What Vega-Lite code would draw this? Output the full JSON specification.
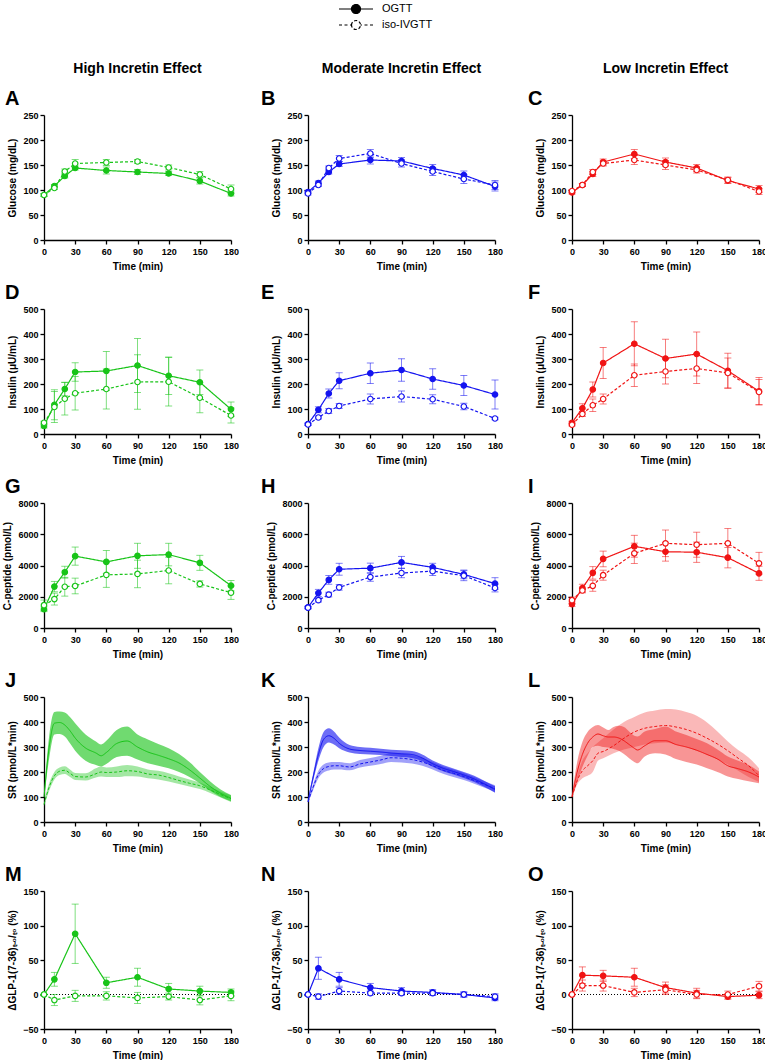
{
"$schema":"https://vega.github.io/schema/vega-lite/v6.json",
"padding":{"left":2,"top":3,"right":0,"bottom":0},
"datasets":{"d":[
{"g":"H","m":"glu","s":"OGTT","t":0,"v":90,"e":3},{"g":"H","m":"glu","s":"OGTT","t":10,"v":108,"e":3},{"g":"H","m":"glu","s":"OGTT","t":20,"v":128,"e":4},{"g":"H","m":"glu","s":"OGTT","t":30,"v":144,"e":4},{"g":"H","m":"glu","s":"OGTT","t":60,"v":139,"e":7},{"g":"H","m":"glu","s":"OGTT","t":90,"v":136,"e":5},{"g":"H","m":"glu","s":"OGTT","t":120,"v":133,"e":4},{"g":"H","m":"glu","s":"OGTT","t":150,"v":118,"e":6},{"g":"H","m":"glu","s":"OGTT","t":180,"v":93,"e":5},
{"g":"H","m":"glu","s":"iso-IVGTT","t":0,"v":90,"e":3},{"g":"H","m":"glu","s":"iso-IVGTT","t":10,"v":104,"e":3},{"g":"H","m":"glu","s":"iso-IVGTT","t":20,"v":137,"e":5},{"g":"H","m":"glu","s":"iso-IVGTT","t":30,"v":153,"e":8},{"g":"H","m":"glu","s":"iso-IVGTT","t":60,"v":155,"e":6},{"g":"H","m":"glu","s":"iso-IVGTT","t":90,"v":157,"e":4},{"g":"H","m":"glu","s":"iso-IVGTT","t":120,"v":145,"e":5},{"g":"H","m":"glu","s":"iso-IVGTT","t":150,"v":131,"e":6},{"g":"H","m":"glu","s":"iso-IVGTT","t":180,"v":102,"e":8},
{"g":"M","m":"glu","s":"OGTT","t":0,"v":96,"e":3},{"g":"M","m":"glu","s":"OGTT","t":10,"v":114,"e":4},{"g":"M","m":"glu","s":"OGTT","t":20,"v":136,"e":4},{"g":"M","m":"glu","s":"OGTT","t":30,"v":152,"e":5},{"g":"M","m":"glu","s":"OGTT","t":60,"v":160,"e":8},{"g":"M","m":"glu","s":"OGTT","t":90,"v":158,"e":7},{"g":"M","m":"glu","s":"OGTT","t":120,"v":143,"e":8},{"g":"M","m":"glu","s":"OGTT","t":150,"v":130,"e":8},{"g":"M","m":"glu","s":"OGTT","t":180,"v":107,"e":9},
{"g":"M","m":"glu","s":"iso-IVGTT","t":0,"v":93,"e":3},{"g":"M","m":"glu","s":"iso-IVGTT","t":10,"v":110,"e":3},{"g":"M","m":"glu","s":"iso-IVGTT","t":20,"v":144,"e":4},{"g":"M","m":"glu","s":"iso-IVGTT","t":30,"v":163,"e":6},{"g":"M","m":"glu","s":"iso-IVGTT","t":60,"v":173,"e":8},{"g":"M","m":"glu","s":"iso-IVGTT","t":90,"v":153,"e":7},{"g":"M","m":"glu","s":"iso-IVGTT","t":120,"v":137,"e":8},{"g":"M","m":"glu","s":"iso-IVGTT","t":150,"v":122,"e":9},{"g":"M","m":"glu","s":"iso-IVGTT","t":180,"v":110,"e":9},
{"g":"L","m":"glu","s":"OGTT","t":0,"v":95,"e":3},{"g":"L","m":"glu","s":"OGTT","t":10,"v":110,"e":3},{"g":"L","m":"glu","s":"OGTT","t":20,"v":132,"e":5},{"g":"L","m":"glu","s":"OGTT","t":30,"v":156,"e":6},{"g":"L","m":"glu","s":"OGTT","t":60,"v":172,"e":9},{"g":"L","m":"glu","s":"OGTT","t":90,"v":156,"e":8},{"g":"L","m":"glu","s":"OGTT","t":120,"v":144,"e":7},{"g":"L","m":"glu","s":"OGTT","t":150,"v":119,"e":6},{"g":"L","m":"glu","s":"OGTT","t":180,"v":102,"e":7},
{"g":"L","m":"glu","s":"iso-IVGTT","t":0,"v":98,"e":3},{"g":"L","m":"glu","s":"iso-IVGTT","t":10,"v":110,"e":3},{"g":"L","m":"glu","s":"iso-IVGTT","t":20,"v":136,"e":5},{"g":"L","m":"glu","s":"iso-IVGTT","t":30,"v":153,"e":5},{"g":"L","m":"glu","s":"iso-IVGTT","t":60,"v":160,"e":9},{"g":"L","m":"glu","s":"iso-IVGTT","t":90,"v":150,"e":9},{"g":"L","m":"glu","s":"iso-IVGTT","t":120,"v":140,"e":6},{"g":"L","m":"glu","s":"iso-IVGTT","t":150,"v":120,"e":6},{"g":"L","m":"glu","s":"iso-IVGTT","t":180,"v":97,"e":6},
{"g":"H","m":"ins","s":"OGTT","t":0,"v":32,"e":8},{"g":"H","m":"ins","s":"OGTT","t":10,"v":117,"e":60},{"g":"H","m":"ins","s":"OGTT","t":20,"v":180,"e":27},{"g":"H","m":"ins","s":"OGTT","t":30,"v":248,"e":37},{"g":"H","m":"ins","s":"OGTT","t":60,"v":252,"e":78},{"g":"H","m":"ins","s":"OGTT","t":90,"v":274,"e":108},{"g":"H","m":"ins","s":"OGTT","t":120,"v":233,"e":75},{"g":"H","m":"ins","s":"OGTT","t":150,"v":207,"e":49},{"g":"H","m":"ins","s":"OGTT","t":180,"v":99,"e":29},
{"g":"H","m":"ins","s":"iso-IVGTT","t":0,"v":45,"e":6},{"g":"H","m":"ins","s":"iso-IVGTT","t":10,"v":108,"e":62},{"g":"H","m":"ins","s":"iso-IVGTT","t":20,"v":141,"e":65},{"g":"H","m":"ins","s":"iso-IVGTT","t":30,"v":163,"e":67},{"g":"H","m":"ins","s":"iso-IVGTT","t":60,"v":180,"e":80},{"g":"H","m":"ins","s":"iso-IVGTT","t":90,"v":208,"e":109},{"g":"H","m":"ins","s":"iso-IVGTT","t":120,"v":209,"e":97},{"g":"H","m":"ins","s":"iso-IVGTT","t":150,"v":145,"e":60},{"g":"H","m":"ins","s":"iso-IVGTT","t":180,"v":74,"e":30},
{"g":"M","m":"ins","s":"OGTT","t":0,"v":40,"e":5},{"g":"M","m":"ins","s":"OGTT","t":10,"v":97,"e":12},{"g":"M","m":"ins","s":"OGTT","t":20,"v":162,"e":18},{"g":"M","m":"ins","s":"OGTT","t":30,"v":213,"e":32},{"g":"M","m":"ins","s":"OGTT","t":60,"v":243,"e":41},{"g":"M","m":"ins","s":"OGTT","t":90,"v":256,"e":45},{"g":"M","m":"ins","s":"OGTT","t":120,"v":220,"e":41},{"g":"M","m":"ins","s":"OGTT","t":150,"v":194,"e":40},{"g":"M","m":"ins","s":"OGTT","t":180,"v":158,"e":58},
{"g":"M","m":"ins","s":"iso-IVGTT","t":0,"v":38,"e":4},{"g":"M","m":"ins","s":"iso-IVGTT","t":10,"v":66,"e":6},{"g":"M","m":"ins","s":"iso-IVGTT","t":20,"v":92,"e":10},{"g":"M","m":"ins","s":"iso-IVGTT","t":30,"v":112,"e":10},{"g":"M","m":"ins","s":"iso-IVGTT","t":60,"v":140,"e":20},{"g":"M","m":"ins","s":"iso-IVGTT","t":90,"v":150,"e":22},{"g":"M","m":"ins","s":"iso-IVGTT","t":120,"v":139,"e":18},{"g":"M","m":"ins","s":"iso-IVGTT","t":150,"v":110,"e":13},{"g":"M","m":"ins","s":"iso-IVGTT","t":180,"v":62,"e":5},
{"g":"L","m":"ins","s":"OGTT","t":0,"v":45,"e":6},{"g":"L","m":"ins","s":"OGTT","t":10,"v":103,"e":18},{"g":"L","m":"ins","s":"OGTT","t":20,"v":178,"e":30},{"g":"L","m":"ins","s":"OGTT","t":30,"v":284,"e":62},{"g":"L","m":"ins","s":"OGTT","t":60,"v":361,"e":88},{"g":"L","m":"ins","s":"OGTT","t":90,"v":302,"e":77},{"g":"L","m":"ins","s":"OGTT","t":120,"v":320,"e":88},{"g":"L","m":"ins","s":"OGTT","t":150,"v":253,"e":70},{"g":"L","m":"ins","s":"OGTT","t":180,"v":171,"e":55},
{"g":"L","m":"ins","s":"iso-IVGTT","t":0,"v":37,"e":5},{"g":"L","m":"ins","s":"iso-IVGTT","t":10,"v":80,"e":10},{"g":"L","m":"ins","s":"iso-IVGTT","t":20,"v":115,"e":25},{"g":"L","m":"ins","s":"iso-IVGTT","t":30,"v":140,"e":20},{"g":"L","m":"ins","s":"iso-IVGTT","t":60,"v":235,"e":45},{"g":"L","m":"ins","s":"iso-IVGTT","t":90,"v":250,"e":50},{"g":"L","m":"ins","s":"iso-IVGTT","t":120,"v":262,"e":60},{"g":"L","m":"ins","s":"iso-IVGTT","t":150,"v":244,"e":60},{"g":"L","m":"ins","s":"iso-IVGTT","t":180,"v":168,"e":50},
{"g":"H","m":"cp","s":"OGTT","t":0,"v":1200,"e":150},{"g":"H","m":"cp","s":"OGTT","t":10,"v":2650,"e":330},{"g":"H","m":"cp","s":"OGTT","t":20,"v":3570,"e":380},{"g":"H","m":"cp","s":"OGTT","t":30,"v":4600,"e":580},{"g":"H","m":"cp","s":"OGTT","t":60,"v":4230,"e":730},{"g":"H","m":"cp","s":"OGTT","t":90,"v":4620,"e":800},{"g":"H","m":"cp","s":"OGTT","t":120,"v":4700,"e":720},{"g":"H","m":"cp","s":"OGTT","t":150,"v":4170,"e":480},{"g":"H","m":"cp","s":"OGTT","t":180,"v":2710,"e":330},
{"g":"H","m":"cp","s":"iso-IVGTT","t":0,"v":1460,"e":330},{"g":"H","m":"cp","s":"iso-IVGTT","t":10,"v":1850,"e":380},{"g":"H","m":"cp","s":"iso-IVGTT","t":20,"v":2640,"e":600},{"g":"H","m":"cp","s":"iso-IVGTT","t":30,"v":2690,"e":500},{"g":"H","m":"cp","s":"iso-IVGTT","t":60,"v":3400,"e":800},{"g":"H","m":"cp","s":"iso-IVGTT","t":90,"v":3460,"e":880},{"g":"H","m":"cp","s":"iso-IVGTT","t":120,"v":3680,"e":850},{"g":"H","m":"cp","s":"iso-IVGTT","t":150,"v":2820,"e":200},{"g":"H","m":"cp","s":"iso-IVGTT","t":180,"v":2260,"e":430},
{"g":"M","m":"cp","s":"OGTT","t":0,"v":1320,"e":80},{"g":"M","m":"cp","s":"OGTT","t":10,"v":2240,"e":230},{"g":"M","m":"cp","s":"OGTT","t":20,"v":3080,"e":280},{"g":"M","m":"cp","s":"OGTT","t":30,"v":3760,"e":380},{"g":"M","m":"cp","s":"OGTT","t":60,"v":3830,"e":320},{"g":"M","m":"cp","s":"OGTT","t":90,"v":4200,"e":380},{"g":"M","m":"cp","s":"OGTT","t":120,"v":3880,"e":260},{"g":"M","m":"cp","s":"OGTT","t":150,"v":3430,"e":280},{"g":"M","m":"cp","s":"OGTT","t":180,"v":2840,"e":380},
{"g":"M","m":"cp","s":"iso-IVGTT","t":0,"v":1300,"e":80},{"g":"M","m":"cp","s":"iso-IVGTT","t":10,"v":1780,"e":120},{"g":"M","m":"cp","s":"iso-IVGTT","t":20,"v":2140,"e":150},{"g":"M","m":"cp","s":"iso-IVGTT","t":30,"v":2600,"e":180},{"g":"M","m":"cp","s":"iso-IVGTT","t":60,"v":3260,"e":270},{"g":"M","m":"cp","s":"iso-IVGTT","t":90,"v":3520,"e":300},{"g":"M","m":"cp","s":"iso-IVGTT","t":120,"v":3640,"e":280},{"g":"M","m":"cp","s":"iso-IVGTT","t":150,"v":3350,"e":320},{"g":"M","m":"cp","s":"iso-IVGTT","t":180,"v":2560,"e":250},
{"g":"L","m":"cp","s":"OGTT","t":0,"v":1530,"e":150},{"g":"L","m":"cp","s":"OGTT","t":10,"v":2550,"e":250},{"g":"L","m":"cp","s":"OGTT","t":20,"v":3530,"e":400},{"g":"L","m":"cp","s":"OGTT","t":30,"v":4420,"e":500},{"g":"L","m":"cp","s":"OGTT","t":60,"v":5230,"e":700},{"g":"L","m":"cp","s":"OGTT","t":90,"v":4880,"e":600},{"g":"L","m":"cp","s":"OGTT","t":120,"v":4850,"e":650},{"g":"L","m":"cp","s":"OGTT","t":150,"v":4500,"e":650},{"g":"L","m":"cp","s":"OGTT","t":180,"v":3500,"e":450},
{"g":"L","m":"cp","s":"iso-IVGTT","t":0,"v":1780,"e":200},{"g":"L","m":"cp","s":"iso-IVGTT","t":10,"v":2400,"e":150},{"g":"L","m":"cp","s":"iso-IVGTT","t":20,"v":2700,"e":350},{"g":"L","m":"cp","s":"iso-IVGTT","t":30,"v":3380,"e":320},{"g":"L","m":"cp","s":"iso-IVGTT","t":60,"v":4780,"e":650},{"g":"L","m":"cp","s":"iso-IVGTT","t":90,"v":5420,"e":850},{"g":"L","m":"cp","s":"iso-IVGTT","t":120,"v":5330,"e":800},{"g":"L","m":"cp","s":"iso-IVGTT","t":150,"v":5420,"e":950},{"g":"L","m":"cp","s":"iso-IVGTT","t":180,"v":4140,"e":700},
{"g":"H","m":"glp","s":"OGTT","t":0,"v":0,"e":0},{"g":"H","m":"glp","s":"OGTT","t":10,"v":22,"e":10},{"g":"H","m":"glp","s":"OGTT","t":30,"v":88,"e":43},{"g":"H","m":"glp","s":"OGTT","t":60,"v":17,"e":8},{"g":"H","m":"glp","s":"OGTT","t":90,"v":25,"e":13},{"g":"H","m":"glp","s":"OGTT","t":120,"v":8,"e":8},{"g":"H","m":"glp","s":"OGTT","t":150,"v":5,"e":7},{"g":"H","m":"glp","s":"OGTT","t":180,"v":3,"e":5},
{"g":"H","m":"glp","s":"iso-IVGTT","t":0,"v":0,"e":0},{"g":"H","m":"glp","s":"iso-IVGTT","t":10,"v":-8,"e":8},{"g":"H","m":"glp","s":"iso-IVGTT","t":30,"v":-2,"e":8},{"g":"H","m":"glp","s":"iso-IVGTT","t":60,"v":-2,"e":6},{"g":"H","m":"glp","s":"iso-IVGTT","t":90,"v":-5,"e":8},{"g":"H","m":"glp","s":"iso-IVGTT","t":120,"v":-3,"e":5},{"g":"H","m":"glp","s":"iso-IVGTT","t":150,"v":-8,"e":7},{"g":"H","m":"glp","s":"iso-IVGTT","t":180,"v":-2,"e":7},
{"g":"M","m":"glp","s":"OGTT","t":0,"v":0,"e":0},{"g":"M","m":"glp","s":"OGTT","t":10,"v":38,"e":16},{"g":"M","m":"glp","s":"OGTT","t":30,"v":22,"e":10},{"g":"M","m":"glp","s":"OGTT","t":60,"v":10,"e":6},{"g":"M","m":"glp","s":"OGTT","t":90,"v":5,"e":5},{"g":"M","m":"glp","s":"OGTT","t":120,"v":3,"e":4},{"g":"M","m":"glp","s":"OGTT","t":150,"v":0,"e":4},{"g":"M","m":"glp","s":"OGTT","t":180,"v":-5,"e":4},
{"g":"M","m":"glp","s":"iso-IVGTT","t":0,"v":0,"e":0},{"g":"M","m":"glp","s":"iso-IVGTT","t":10,"v":-3,"e":4},{"g":"M","m":"glp","s":"iso-IVGTT","t":30,"v":5,"e":5},{"g":"M","m":"glp","s":"iso-IVGTT","t":60,"v":2,"e":3},{"g":"M","m":"glp","s":"iso-IVGTT","t":90,"v":2,"e":3},{"g":"M","m":"glp","s":"iso-IVGTT","t":120,"v":2,"e":3},{"g":"M","m":"glp","s":"iso-IVGTT","t":150,"v":0,"e":3},{"g":"M","m":"glp","s":"iso-IVGTT","t":180,"v":-3,"e":4},
{"g":"L","m":"glp","s":"OGTT","t":0,"v":0,"e":0},{"g":"L","m":"glp","s":"OGTT","t":10,"v":28,"e":12},{"g":"L","m":"glp","s":"OGTT","t":30,"v":27,"e":8},{"g":"L","m":"glp","s":"OGTT","t":60,"v":25,"e":13},{"g":"L","m":"glp","s":"OGTT","t":90,"v":10,"e":8},{"g":"L","m":"glp","s":"OGTT","t":120,"v":2,"e":7},{"g":"L","m":"glp","s":"OGTT","t":150,"v":-3,"e":4},{"g":"L","m":"glp","s":"OGTT","t":180,"v":-1,"e":5},
{"g":"L","m":"glp","s":"iso-IVGTT","t":0,"v":0,"e":0},{"g":"L","m":"glp","s":"iso-IVGTT","t":10,"v":13,"e":8},{"g":"L","m":"glp","s":"iso-IVGTT","t":30,"v":13,"e":8},{"g":"L","m":"glp","s":"iso-IVGTT","t":60,"v":3,"e":6},{"g":"L","m":"glp","s":"iso-IVGTT","t":90,"v":7,"e":7},{"g":"L","m":"glp","s":"iso-IVGTT","t":120,"v":0,"e":6},{"g":"L","m":"glp","s":"iso-IVGTT","t":150,"v":0,"e":5},{"g":"L","m":"glp","s":"iso-IVGTT","t":180,"v":12,"e":7},
{"g":"H","m":"sr","s":"OGTT","t":0,"v":100,"lo":90,"hi":110},{"g":"H","m":"sr","s":"OGTT","t":5,"v":300,"lo":255,"hi":345},{"g":"H","m":"sr","s":"OGTT","t":10,"v":395,"lo":350,"hi":440},{"g":"H","m":"sr","s":"OGTT","t":15,"v":398,"lo":352,"hi":442},{"g":"H","m":"sr","s":"OGTT","t":20,"v":388,"lo":342,"hi":438},{"g":"H","m":"sr","s":"OGTT","t":25,"v":365,"lo":315,"hi":420},{"g":"H","m":"sr","s":"OGTT","t":30,"v":336,"lo":285,"hi":395},{"g":"H","m":"sr","s":"OGTT","t":40,"v":296,"lo":245,"hi":350},{"g":"H","m":"sr","s":"OGTT","t":50,"v":276,"lo":228,"hi":322},{"g":"H","m":"sr","s":"OGTT","t":55,"v":265,"lo":222,"hi":310},{"g":"H","m":"sr","s":"OGTT","t":60,"v":278,"lo":232,"hi":325},{"g":"H","m":"sr","s":"OGTT","t":70,"v":314,"lo":260,"hi":368},{"g":"H","m":"sr","s":"OGTT","t":80,"v":324,"lo":265,"hi":382},{"g":"H","m":"sr","s":"OGTT","t":90,"v":300,"lo":250,"hi":350},{"g":"H","m":"sr","s":"OGTT","t":100,"v":280,"lo":235,"hi":330},{"g":"H","m":"sr","s":"OGTT","t":110,"v":267,"lo":225,"hi":312},{"g":"H","m":"sr","s":"OGTT","t":120,"v":253,"lo":215,"hi":295},{"g":"H","m":"sr","s":"OGTT","t":130,"v":236,"lo":200,"hi":272},{"g":"H","m":"sr","s":"OGTT","t":140,"v":209,"lo":180,"hi":240},{"g":"H","m":"sr","s":"OGTT","t":150,"v":176,"lo":155,"hi":200},{"g":"H","m":"sr","s":"OGTT","t":160,"v":142,"lo":125,"hi":162},{"g":"H","m":"sr","s":"OGTT","t":170,"v":115,"lo":100,"hi":130},{"g":"H","m":"sr","s":"OGTT","t":180,"v":95,"lo":83,"hi":108},
{"g":"H","m":"sr","s":"iso-IVGTT","t":0,"v":70,"lo":62,"hi":80},{"g":"H","m":"sr","s":"iso-IVGTT","t":5,"v":140,"lo":125,"hi":155},{"g":"H","m":"sr","s":"iso-IVGTT","t":10,"v":185,"lo":170,"hi":200},{"g":"H","m":"sr","s":"iso-IVGTT","t":15,"v":203,"lo":188,"hi":218},{"g":"H","m":"sr","s":"iso-IVGTT","t":20,"v":207,"lo":192,"hi":223},{"g":"H","m":"sr","s":"iso-IVGTT","t":25,"v":195,"lo":180,"hi":210},{"g":"H","m":"sr","s":"iso-IVGTT","t":30,"v":182,"lo":168,"hi":196},{"g":"H","m":"sr","s":"iso-IVGTT","t":40,"v":180,"lo":166,"hi":195},{"g":"H","m":"sr","s":"iso-IVGTT","t":50,"v":193,"lo":178,"hi":215},{"g":"H","m":"sr","s":"iso-IVGTT","t":55,"v":200,"lo":182,"hi":222},{"g":"H","m":"sr","s":"iso-IVGTT","t":60,"v":198,"lo":180,"hi":218},{"g":"H","m":"sr","s":"iso-IVGTT","t":70,"v":200,"lo":180,"hi":222},{"g":"H","m":"sr","s":"iso-IVGTT","t":80,"v":205,"lo":183,"hi":228},{"g":"H","m":"sr","s":"iso-IVGTT","t":90,"v":202,"lo":182,"hi":222},{"g":"H","m":"sr","s":"iso-IVGTT","t":100,"v":192,"lo":175,"hi":210},{"g":"H","m":"sr","s":"iso-IVGTT","t":110,"v":188,"lo":170,"hi":205},{"g":"H","m":"sr","s":"iso-IVGTT","t":120,"v":178,"lo":162,"hi":195},{"g":"H","m":"sr","s":"iso-IVGTT","t":130,"v":166,"lo":152,"hi":182},{"g":"H","m":"sr","s":"iso-IVGTT","t":140,"v":155,"lo":142,"hi":170},{"g":"H","m":"sr","s":"iso-IVGTT","t":150,"v":145,"lo":132,"hi":158},{"g":"H","m":"sr","s":"iso-IVGTT","t":160,"v":128,"lo":116,"hi":140},{"g":"H","m":"sr","s":"iso-IVGTT","t":170,"v":110,"lo":98,"hi":122},{"g":"H","m":"sr","s":"iso-IVGTT","t":180,"v":93,"lo":80,"hi":106},
{"g":"M","m":"sr","s":"OGTT","t":0,"v":82,"lo":78,"hi":88},{"g":"M","m":"sr","s":"OGTT","t":5,"v":180,"lo":165,"hi":195},{"g":"M","m":"sr","s":"OGTT","t":10,"v":270,"lo":245,"hi":295},{"g":"M","m":"sr","s":"OGTT","t":15,"v":330,"lo":300,"hi":360},{"g":"M","m":"sr","s":"OGTT","t":20,"v":345,"lo":318,"hi":375},{"g":"M","m":"sr","s":"OGTT","t":25,"v":335,"lo":310,"hi":362},{"g":"M","m":"sr","s":"OGTT","t":30,"v":315,"lo":295,"hi":338},{"g":"M","m":"sr","s":"OGTT","t":40,"v":292,"lo":278,"hi":308},{"g":"M","m":"sr","s":"OGTT","t":50,"v":286,"lo":272,"hi":300},{"g":"M","m":"sr","s":"OGTT","t":60,"v":283,"lo":270,"hi":297},{"g":"M","m":"sr","s":"OGTT","t":70,"v":280,"lo":268,"hi":293},{"g":"M","m":"sr","s":"OGTT","t":80,"v":276,"lo":264,"hi":289},{"g":"M","m":"sr","s":"OGTT","t":90,"v":273,"lo":260,"hi":287},{"g":"M","m":"sr","s":"OGTT","t":100,"v":270,"lo":256,"hi":284},{"g":"M","m":"sr","s":"OGTT","t":110,"v":256,"lo":243,"hi":270},{"g":"M","m":"sr","s":"OGTT","t":120,"v":233,"lo":221,"hi":246},{"g":"M","m":"sr","s":"OGTT","t":130,"v":215,"lo":203,"hi":228},{"g":"M","m":"sr","s":"OGTT","t":140,"v":202,"lo":190,"hi":214},{"g":"M","m":"sr","s":"OGTT","t":150,"v":188,"lo":176,"hi":200},{"g":"M","m":"sr","s":"OGTT","t":160,"v":172,"lo":160,"hi":185},{"g":"M","m":"sr","s":"OGTT","t":170,"v":152,"lo":140,"hi":164},{"g":"M","m":"sr","s":"OGTT","t":180,"v":130,"lo":117,"hi":143},
{"g":"M","m":"sr","s":"iso-IVGTT","t":0,"v":80,"lo":76,"hi":85},{"g":"M","m":"sr","s":"iso-IVGTT","t":5,"v":140,"lo":128,"hi":152},{"g":"M","m":"sr","s":"iso-IVGTT","t":10,"v":190,"lo":175,"hi":205},{"g":"M","m":"sr","s":"iso-IVGTT","t":15,"v":214,"lo":198,"hi":230},{"g":"M","m":"sr","s":"iso-IVGTT","t":20,"v":222,"lo":206,"hi":238},{"g":"M","m":"sr","s":"iso-IVGTT","t":25,"v":225,"lo":210,"hi":240},{"g":"M","m":"sr","s":"iso-IVGTT","t":30,"v":225,"lo":210,"hi":240},{"g":"M","m":"sr","s":"iso-IVGTT","t":40,"v":220,"lo":207,"hi":235},{"g":"M","m":"sr","s":"iso-IVGTT","t":50,"v":232,"lo":218,"hi":248},{"g":"M","m":"sr","s":"iso-IVGTT","t":60,"v":240,"lo":225,"hi":256},{"g":"M","m":"sr","s":"iso-IVGTT","t":70,"v":248,"lo":232,"hi":265},{"g":"M","m":"sr","s":"iso-IVGTT","t":80,"v":257,"lo":240,"hi":275},{"g":"M","m":"sr","s":"iso-IVGTT","t":90,"v":255,"lo":238,"hi":273},{"g":"M","m":"sr","s":"iso-IVGTT","t":100,"v":250,"lo":234,"hi":267},{"g":"M","m":"sr","s":"iso-IVGTT","t":110,"v":240,"lo":225,"hi":256},{"g":"M","m":"sr","s":"iso-IVGTT","t":120,"v":225,"lo":210,"hi":240},{"g":"M","m":"sr","s":"iso-IVGTT","t":130,"v":207,"lo":193,"hi":222},{"g":"M","m":"sr","s":"iso-IVGTT","t":140,"v":195,"lo":180,"hi":210},{"g":"M","m":"sr","s":"iso-IVGTT","t":150,"v":182,"lo":168,"hi":196},{"g":"M","m":"sr","s":"iso-IVGTT","t":160,"v":166,"lo":153,"hi":180},{"g":"M","m":"sr","s":"iso-IVGTT","t":170,"v":150,"lo":137,"hi":163},{"g":"M","m":"sr","s":"iso-IVGTT","t":180,"v":133,"lo":120,"hi":147},
{"g":"L","m":"sr","s":"OGTT","t":0,"v":102,"lo":98,"hi":106},{"g":"L","m":"sr","s":"OGTT","t":5,"v":200,"lo":160,"hi":240},{"g":"L","m":"sr","s":"OGTT","t":10,"v":270,"lo":220,"hi":320},{"g":"L","m":"sr","s":"OGTT","t":15,"v":315,"lo":265,"hi":360},{"g":"L","m":"sr","s":"OGTT","t":20,"v":340,"lo":300,"hi":380},{"g":"L","m":"sr","s":"OGTT","t":25,"v":352,"lo":305,"hi":388},{"g":"L","m":"sr","s":"OGTT","t":30,"v":345,"lo":300,"hi":378},{"g":"L","m":"sr","s":"OGTT","t":35,"v":340,"lo":298,"hi":368},{"g":"L","m":"sr","s":"OGTT","t":40,"v":340,"lo":292,"hi":380},{"g":"L","m":"sr","s":"OGTT","t":45,"v":336,"lo":285,"hi":385},{"g":"L","m":"sr","s":"OGTT","t":50,"v":325,"lo":272,"hi":380},{"g":"L","m":"sr","s":"OGTT","t":55,"v":310,"lo":255,"hi":362},{"g":"L","m":"sr","s":"OGTT","t":60,"v":295,"lo":240,"hi":345},{"g":"L","m":"sr","s":"OGTT","t":63,"v":288,"lo":235,"hi":342},{"g":"L","m":"sr","s":"OGTT","t":70,"v":305,"lo":262,"hi":362},{"g":"L","m":"sr","s":"OGTT","t":80,"v":325,"lo":275,"hi":372},{"g":"L","m":"sr","s":"OGTT","t":90,"v":325,"lo":270,"hi":382},{"g":"L","m":"sr","s":"OGTT","t":100,"v":310,"lo":252,"hi":362},{"g":"L","m":"sr","s":"OGTT","t":110,"v":300,"lo":240,"hi":348},{"g":"L","m":"sr","s":"OGTT","t":120,"v":287,"lo":230,"hi":332},{"g":"L","m":"sr","s":"OGTT","t":130,"v":270,"lo":215,"hi":315},{"g":"L","m":"sr","s":"OGTT","t":140,"v":252,"lo":200,"hi":290},{"g":"L","m":"sr","s":"OGTT","t":150,"v":225,"lo":182,"hi":262},{"g":"L","m":"sr","s":"OGTT","t":160,"v":213,"lo":172,"hi":245},{"g":"L","m":"sr","s":"OGTT","t":170,"v":200,"lo":163,"hi":228},{"g":"L","m":"sr","s":"OGTT","t":180,"v":180,"lo":155,"hi":202},
{"g":"L","m":"sr","s":"iso-IVGTT","t":0,"v":100,"lo":96,"hi":105},{"g":"L","m":"sr","s":"iso-IVGTT","t":5,"v":165,"lo":150,"hi":185},{"g":"L","m":"sr","s":"iso-IVGTT","t":10,"v":205,"lo":175,"hi":245},{"g":"L","m":"sr","s":"iso-IVGTT","t":15,"v":225,"lo":185,"hi":275},{"g":"L","m":"sr","s":"iso-IVGTT","t":20,"v":245,"lo":200,"hi":300},{"g":"L","m":"sr","s":"iso-IVGTT","t":25,"v":275,"lo":245,"hi":318},{"g":"L","m":"sr","s":"iso-IVGTT","t":30,"v":282,"lo":255,"hi":335},{"g":"L","m":"sr","s":"iso-IVGTT","t":40,"v":305,"lo":275,"hi":370},{"g":"L","m":"sr","s":"iso-IVGTT","t":50,"v":335,"lo":290,"hi":400},{"g":"L","m":"sr","s":"iso-IVGTT","t":60,"v":360,"lo":300,"hi":420},{"g":"L","m":"sr","s":"iso-IVGTT","t":70,"v":375,"lo":310,"hi":438},{"g":"L","m":"sr","s":"iso-IVGTT","t":80,"v":382,"lo":315,"hi":446},{"g":"L","m":"sr","s":"iso-IVGTT","t":90,"v":386,"lo":318,"hi":452},{"g":"L","m":"sr","s":"iso-IVGTT","t":100,"v":380,"lo":310,"hi":450},{"g":"L","m":"sr","s":"iso-IVGTT","t":110,"v":370,"lo":300,"hi":440},{"g":"L","m":"sr","s":"iso-IVGTT","t":120,"v":355,"lo":285,"hi":425},{"g":"L","m":"sr","s":"iso-IVGTT","t":130,"v":335,"lo":270,"hi":398},{"g":"L","m":"sr","s":"iso-IVGTT","t":140,"v":312,"lo":250,"hi":362},{"g":"L","m":"sr","s":"iso-IVGTT","t":150,"v":285,"lo":230,"hi":322},{"g":"L","m":"sr","s":"iso-IVGTT","t":160,"v":255,"lo":205,"hi":288},{"g":"L","m":"sr","s":"iso-IVGTT","t":170,"v":225,"lo":180,"hi":258},{"g":"L","m":"sr","s":"iso-IVGTT","t":180,"v":185,"lo":160,"hi":215}
]},
"data":{"name":"d"},
"columns":3,
"align":{"row":"each","column":"all"},
"spacing":{"row":12,"column":20},
"concat":[
{"width":187,"height":1,"data":{"values":[{}]},"mark":{"type":"point","opacity":0},"encoding":{},"title":{"text":"High Incretin Effect","anchor":"middle","frame":"group","fontSize":14,"offset":-19,"dx":0,"baseline":"bottom"}},
{"width":187,"height":1,"data":{"values":[{}]},"mark":{"type":"point","opacity":0},"encoding":{},"title":{"text":"Moderate Incretin Effect","anchor":"middle","frame":"group","fontSize":14,"offset":-19,"dx":0,"baseline":"bottom"}},
{"width":187,"height":1,"data":{"values":[{}]},"mark":{"type":"point","opacity":0},"encoding":{},"title":{"text":"Low Incretin Effect","anchor":"middle","frame":"group","fontSize":14,"offset":-19,"dx":0,"baseline":"bottom"}},
{"width":187,"height":125,"title":{"text":"A","dx":-39},
"transform":[{"filter":"datum.g=='H'&&datum.m=='glu'"}],
"encoding":{"x":{"field":"t","type":"quantitative","scale":{"domain":[0,180],"nice":false},"axis":{"values":[0,30,60,90,120,150,180]},"title":"Time (min)"},
"y":{"field":"v","type":"quantitative","scale":{"domain":[0,250],"nice":false},"axis":{"values":[0,50,100,150,200,250]},"title":"Glucose (mg/dL)"}},
"layer":[
{"mark":{"type":"point","opacity":0,"color":"black"},"encoding":{
"fill":{"field":"s","type":"nominal","scale":{"domain":["OGTT","iso-IVGTT"],"range":["black","white"]},"legend":{"title":null,"orient":"none","legendX":306,"legendY":-70,"symbolSize":100,"symbolStrokeWidth":1.2,"symbolOpacity":1,"labelOffset":20,"labelFontSize":11,"labelFont":"Liberation Sans","labelColor":"black","rowPadding":2,"padding":0}},
"stroke":{"field":"s","type":"nominal","scale":{"domain":["OGTT","iso-IVGTT"],"range":["black","black"]},"legend":{"title":null,"orient":"none","legendX":306,"legendY":-70,"symbolSize":100,"symbolStrokeWidth":1.2,"symbolOpacity":1,"labelOffset":20,"labelFontSize":11,"labelFont":"Liberation Sans","labelColor":"black","rowPadding":2,"padding":0}},
"shape":{"field":"s","type":"nominal","scale":{"domain":["OGTT","iso-IVGTT"],"range":["M-3.4,0L-0.9,0M0.9,0L3.4,0M-0.9,0A0.9,0.9,0,1,1,0.9,0A0.9,0.9,0,1,1,-0.9,0Z","M-3.4,0L-2.8,0M-2.3,0L-1.7,0M-1.2,0L-0.9,0M0.9,0L1.2,0M1.7,0L2.3,0M2.8,0L3.4,0M-0.9,0A0.9,0.9,0,1,1,0.9,0A0.9,0.9,0,1,1,-0.9,0Z"]},"legend":{"title":null,"orient":"none","legendX":306,"legendY":-70,"symbolSize":100,"symbolStrokeWidth":1.2,"symbolOpacity":1,"labelOffset":20,"labelFontSize":11,"labelFont":"Liberation Sans","labelColor":"black","rowPadding":2,"padding":0}}}},
{"mark":{"type":"errorbar","ticks":{"size":7,"thickness":1},"color":"#18C418","opacity":0.55,"thickness":1},"encoding":{"yError":{"field":"e"}}},
{"mark":{"type":"line","color":"#18C418","strokeWidth":1.2},"encoding":{"strokeDash":{"field":"s","type":"nominal","scale":{"domain":["OGTT","iso-IVGTT"],"range":[[1,0],[3,2]]},"legend":null}}},
{"mark":{"type":"point","size":30,"opacity":1,"strokeWidth":1.2,"color":"#18C418"},"encoding":{"fill":{"condition":{"test":"datum.s=='OGTT'","value":"#18C418"},"value":"white"}}}
]},
{"width":187,"height":125,"title":{"text":"B","dx":-47},
"transform":[{"filter":"datum.g=='M'&&datum.m=='glu'"}],
"encoding":{"x":{"field":"t","type":"quantitative","scale":{"domain":[0,180],"nice":false},"axis":{"values":[0,30,60,90,120,150,180]},"title":"Time (min)"},
"y":{"field":"v","type":"quantitative","scale":{"domain":[0,250],"nice":false},"axis":{"values":[0,50,100,150,200,250]},"title":"Glucose (mg/dL)"}},
"layer":[
{"mark":{"type":"errorbar","ticks":{"size":7,"thickness":1},"color":"#1414F0","opacity":0.55,"thickness":1},"encoding":{"yError":{"field":"e"}}},
{"mark":{"type":"line","color":"#1414F0","strokeWidth":1.2},"encoding":{"strokeDash":{"field":"s","type":"nominal","scale":{"domain":["OGTT","iso-IVGTT"],"range":[[1,0],[3,2]]},"legend":null}}},
{"mark":{"type":"point","size":30,"opacity":1,"strokeWidth":1.2,"color":"#1414F0"},"encoding":{"fill":{"condition":{"test":"datum.s=='OGTT'","value":"#1414F0"},"value":"white"}}}
]},
{"width":187,"height":125,"title":{"text":"C","dx":-44},
"transform":[{"filter":"datum.g=='L'&&datum.m=='glu'"}],
"encoding":{"x":{"field":"t","type":"quantitative","scale":{"domain":[0,180],"nice":false},"axis":{"values":[0,30,60,90,120,150,180]},"title":"Time (min)"},
"y":{"field":"v","type":"quantitative","scale":{"domain":[0,250],"nice":false},"axis":{"values":[0,50,100,150,200,250]},"title":"Glucose (mg/dL)"}},
"layer":[
{"mark":{"type":"errorbar","ticks":{"size":7,"thickness":1},"color":"#F01414","opacity":0.55,"thickness":1},"encoding":{"yError":{"field":"e"}}},
{"mark":{"type":"line","color":"#F01414","strokeWidth":1.2},"encoding":{"strokeDash":{"field":"s","type":"nominal","scale":{"domain":["OGTT","iso-IVGTT"],"range":[[1,0],[3,2]]},"legend":null}}},
{"mark":{"type":"point","size":30,"opacity":1,"strokeWidth":1.2,"color":"#F01414"},"encoding":{"fill":{"condition":{"test":"datum.s=='OGTT'","value":"#F01414"},"value":"white"}}}
]},
{"width":187,"height":125,"title":{"text":"D","dx":-39},
"transform":[{"filter":"datum.g=='H'&&datum.m=='ins'"}],
"encoding":{"x":{"field":"t","type":"quantitative","scale":{"domain":[0,180],"nice":false},"axis":{"values":[0,30,60,90,120,150,180]},"title":"Time (min)"},
"y":{"field":"v","type":"quantitative","scale":{"domain":[0,500],"nice":false},"axis":{"values":[0,100,200,300,400,500]},"title":"Insulin (μU/mL)"}},
"layer":[
{"mark":{"type":"errorbar","ticks":{"size":7,"thickness":1},"color":"#18C418","opacity":0.55,"thickness":1},"encoding":{"yError":{"field":"e"}}},
{"mark":{"type":"line","color":"#18C418","strokeWidth":1.2},"encoding":{"strokeDash":{"field":"s","type":"nominal","scale":{"domain":["OGTT","iso-IVGTT"],"range":[[1,0],[3,2]]},"legend":null}}},
{"mark":{"type":"point","size":30,"opacity":1,"strokeWidth":1.2,"color":"#18C418"},"encoding":{"fill":{"condition":{"test":"datum.s=='OGTT'","value":"#18C418"},"value":"white"}}}
]},
{"width":187,"height":125,"title":{"text":"E","dx":-47},
"transform":[{"filter":"datum.g=='M'&&datum.m=='ins'"}],
"encoding":{"x":{"field":"t","type":"quantitative","scale":{"domain":[0,180],"nice":false},"axis":{"values":[0,30,60,90,120,150,180]},"title":"Time (min)"},
"y":{"field":"v","type":"quantitative","scale":{"domain":[0,500],"nice":false},"axis":{"values":[0,100,200,300,400,500]},"title":"Insulin (μU/mL)"}},
"layer":[
{"mark":{"type":"errorbar","ticks":{"size":7,"thickness":1},"color":"#1414F0","opacity":0.55,"thickness":1},"encoding":{"yError":{"field":"e"}}},
{"mark":{"type":"line","color":"#1414F0","strokeWidth":1.2},"encoding":{"strokeDash":{"field":"s","type":"nominal","scale":{"domain":["OGTT","iso-IVGTT"],"range":[[1,0],[3,2]]},"legend":null}}},
{"mark":{"type":"point","size":30,"opacity":1,"strokeWidth":1.2,"color":"#1414F0"},"encoding":{"fill":{"condition":{"test":"datum.s=='OGTT'","value":"#1414F0"},"value":"white"}}}
]},
{"width":187,"height":125,"title":{"text":"F","dx":-44},
"transform":[{"filter":"datum.g=='L'&&datum.m=='ins'"}],
"encoding":{"x":{"field":"t","type":"quantitative","scale":{"domain":[0,180],"nice":false},"axis":{"values":[0,30,60,90,120,150,180]},"title":"Time (min)"},
"y":{"field":"v","type":"quantitative","scale":{"domain":[0,500],"nice":false},"axis":{"values":[0,100,200,300,400,500]},"title":"Insulin (μU/mL)"}},
"layer":[
{"mark":{"type":"errorbar","ticks":{"size":7,"thickness":1},"color":"#F01414","opacity":0.55,"thickness":1},"encoding":{"yError":{"field":"e"}}},
{"mark":{"type":"line","color":"#F01414","strokeWidth":1.2},"encoding":{"strokeDash":{"field":"s","type":"nominal","scale":{"domain":["OGTT","iso-IVGTT"],"range":[[1,0],[3,2]]},"legend":null}}},
{"mark":{"type":"point","size":30,"opacity":1,"strokeWidth":1.2,"color":"#F01414"},"encoding":{"fill":{"condition":{"test":"datum.s=='OGTT'","value":"#F01414"},"value":"white"}}}
]},
{"width":187,"height":125,"title":{"text":"G","dx":-39},
"transform":[{"filter":"datum.g=='H'&&datum.m=='cp'"}],
"encoding":{"x":{"field":"t","type":"quantitative","scale":{"domain":[0,180],"nice":false},"axis":{"values":[0,30,60,90,120,150,180]},"title":"Time (min)"},
"y":{"field":"v","type":"quantitative","scale":{"domain":[0,8000],"nice":false},"axis":{"values":[0,2000,4000,6000,8000],"format":"d"},"title":"C-peptide (pmol/L)"}},
"layer":[
{"mark":{"type":"errorbar","ticks":{"size":7,"thickness":1},"color":"#18C418","opacity":0.55,"thickness":1},"encoding":{"yError":{"field":"e"}}},
{"mark":{"type":"line","color":"#18C418","strokeWidth":1.2},"encoding":{"strokeDash":{"field":"s","type":"nominal","scale":{"domain":["OGTT","iso-IVGTT"],"range":[[1,0],[3,2]]},"legend":null}}},
{"mark":{"type":"point","size":30,"opacity":1,"strokeWidth":1.2,"color":"#18C418"},"encoding":{"fill":{"condition":{"test":"datum.s=='OGTT'","value":"#18C418"},"value":"white"}}}
]},
{"width":187,"height":125,"title":{"text":"H","dx":-47},
"transform":[{"filter":"datum.g=='M'&&datum.m=='cp'"}],
"encoding":{"x":{"field":"t","type":"quantitative","scale":{"domain":[0,180],"nice":false},"axis":{"values":[0,30,60,90,120,150,180]},"title":"Time (min)"},
"y":{"field":"v","type":"quantitative","scale":{"domain":[0,8000],"nice":false},"axis":{"values":[0,2000,4000,6000,8000],"format":"d"},"title":"C-peptide (pmol/L)"}},
"layer":[
{"mark":{"type":"errorbar","ticks":{"size":7,"thickness":1},"color":"#1414F0","opacity":0.55,"thickness":1},"encoding":{"yError":{"field":"e"}}},
{"mark":{"type":"line","color":"#1414F0","strokeWidth":1.2},"encoding":{"strokeDash":{"field":"s","type":"nominal","scale":{"domain":["OGTT","iso-IVGTT"],"range":[[1,0],[3,2]]},"legend":null}}},
{"mark":{"type":"point","size":30,"opacity":1,"strokeWidth":1.2,"color":"#1414F0"},"encoding":{"fill":{"condition":{"test":"datum.s=='OGTT'","value":"#1414F0"},"value":"white"}}}
]},
{"width":187,"height":125,"title":{"text":"I","dx":-44},
"transform":[{"filter":"datum.g=='L'&&datum.m=='cp'"}],
"encoding":{"x":{"field":"t","type":"quantitative","scale":{"domain":[0,180],"nice":false},"axis":{"values":[0,30,60,90,120,150,180]},"title":"Time (min)"},
"y":{"field":"v","type":"quantitative","scale":{"domain":[0,8000],"nice":false},"axis":{"values":[0,2000,4000,6000,8000],"format":"d"},"title":"C-peptide (pmol/L)"}},
"layer":[
{"mark":{"type":"errorbar","ticks":{"size":7,"thickness":1},"color":"#F01414","opacity":0.55,"thickness":1},"encoding":{"yError":{"field":"e"}}},
{"mark":{"type":"line","color":"#F01414","strokeWidth":1.2},"encoding":{"strokeDash":{"field":"s","type":"nominal","scale":{"domain":["OGTT","iso-IVGTT"],"range":[[1,0],[3,2]]},"legend":null}}},
{"mark":{"type":"point","size":30,"opacity":1,"strokeWidth":1.2,"color":"#F01414"},"encoding":{"fill":{"condition":{"test":"datum.s=='OGTT'","value":"#F01414"},"value":"white"}}}
]},
{"width":187,"height":125,"title":{"text":"J","dx":-39},
"transform":[{"filter":"datum.g=='H'&&datum.m=='sr'"}],
"encoding":{"x":{"field":"t","type":"quantitative","scale":{"domain":[0,180],"nice":false},"axis":{"values":[0,30,60,90,120,150,180]},"title":"Time (min)"},
"y":{"field":"v","type":"quantitative","scale":{"domain":[0,500],"nice":false},"axis":{"values":[0,100,200,300,400,500]},"title":"SR (pmol/L*min)"}},
"layer":[
{"transform":[{"filter":"datum.s=='OGTT'"}],"mark":{"type":"area","color":"#18C418","opacity":0.62,"interpolate":"monotone"},"encoding":{"y":{"field":"lo","type":"quantitative","title":"SR (pmol/L*min)"},"y2":{"field":"hi"}}},
{"transform":[{"filter":"datum.s=='iso-IVGTT'"}],"mark":{"type":"area","color":"#18C418","opacity":0.4,"interpolate":"monotone"},"encoding":{"y":{"field":"lo","type":"quantitative","title":"SR (pmol/L*min)"},"y2":{"field":"hi"}}},
{"mark":{"type":"line","color":"#18C418","strokeWidth":1,"interpolate":"monotone"},"encoding":{"strokeDash":{"field":"s","type":"nominal","scale":{"domain":["OGTT","iso-IVGTT"],"range":[[1,0],[3,2]]},"legend":null}}}
]},
{"width":187,"height":125,"title":{"text":"K","dx":-47},
"transform":[{"filter":"datum.g=='M'&&datum.m=='sr'"}],
"encoding":{"x":{"field":"t","type":"quantitative","scale":{"domain":[0,180],"nice":false},"axis":{"values":[0,30,60,90,120,150,180]},"title":"Time (min)"},
"y":{"field":"v","type":"quantitative","scale":{"domain":[0,500],"nice":false},"axis":{"values":[0,100,200,300,400,500]},"title":"SR (pmol/L*min)"}},
"layer":[
{"transform":[{"filter":"datum.s=='OGTT'"}],"mark":{"type":"area","color":"#1414F0","opacity":0.62,"interpolate":"monotone"},"encoding":{"y":{"field":"lo","type":"quantitative","title":"SR (pmol/L*min)"},"y2":{"field":"hi"}}},
{"transform":[{"filter":"datum.s=='iso-IVGTT'"}],"mark":{"type":"area","color":"#1414F0","opacity":0.4,"interpolate":"monotone"},"encoding":{"y":{"field":"lo","type":"quantitative","title":"SR (pmol/L*min)"},"y2":{"field":"hi"}}},
{"mark":{"type":"line","color":"#1414F0","strokeWidth":1,"interpolate":"monotone"},"encoding":{"strokeDash":{"field":"s","type":"nominal","scale":{"domain":["OGTT","iso-IVGTT"],"range":[[1,0],[3,2]]},"legend":null}}}
]},
{"width":187,"height":125,"title":{"text":"L","dx":-44},
"transform":[{"filter":"datum.g=='L'&&datum.m=='sr'"}],
"encoding":{"x":{"field":"t","type":"quantitative","scale":{"domain":[0,180],"nice":false},"axis":{"values":[0,30,60,90,120,150,180]},"title":"Time (min)"},
"y":{"field":"v","type":"quantitative","scale":{"domain":[0,500],"nice":false},"axis":{"values":[0,100,200,300,400,500]},"title":"SR (pmol/L*min)"}},
"layer":[
{"transform":[{"filter":"datum.s=='iso-IVGTT'"}],"mark":{"type":"area","color":"#F01414","opacity":0.3,"interpolate":"monotone"},"encoding":{"y":{"field":"lo","type":"quantitative","title":"SR (pmol/L*min)"},"y2":{"field":"hi"}}},
{"transform":[{"filter":"datum.s=='OGTT'"}],"mark":{"type":"area","color":"#F01414","opacity":0.45,"interpolate":"monotone"},"encoding":{"y":{"field":"lo","type":"quantitative","title":"SR (pmol/L*min)"},"y2":{"field":"hi"}}},
{"mark":{"type":"line","color":"#F01414","strokeWidth":1,"interpolate":"monotone"},"encoding":{"strokeDash":{"field":"s","type":"nominal","scale":{"domain":["OGTT","iso-IVGTT"],"range":[[1,0],[3,2]]},"legend":null}}}
]},
{"width":187,"height":138,"title":{"text":"M","dx":-39},
"transform":[{"filter":"datum.g=='H'&&datum.m=='glp'"}],
"encoding":{"x":{"field":"t","type":"quantitative","scale":{"domain":[0,180],"nice":false},"axis":{"values":[0,30,60,90,120,150,180]},"title":"Time (min)"},
"y":{"field":"v","type":"quantitative","scale":{"domain":[-50,150],"nice":false},"axis":{"values":[-50,0,50,100,150]},"title":"ΔGLP-1(7-36)ₜ₋₀/ₜ₀ (%)"}},
"layer":[
{"transform":[{"filter":"datum.t==0&&datum.s=='OGTT'"}],"mark":{"type":"rule","color":"black","strokeDash":[1,2],"strokeWidth":1},"encoding":{"x":{"datum":0},"x2":{"datum":180},"y":{"datum":0}}},
{"mark":{"type":"errorbar","ticks":{"size":7,"thickness":1},"color":"#18C418","opacity":0.55,"thickness":1},"encoding":{"yError":{"field":"e"}}},
{"mark":{"type":"line","color":"#18C418","strokeWidth":1.2},"encoding":{"strokeDash":{"field":"s","type":"nominal","scale":{"domain":["OGTT","iso-IVGTT"],"range":[[1,0],[3,2]]},"legend":null}}},
{"mark":{"type":"point","size":30,"opacity":1,"strokeWidth":1.2,"color":"#18C418"},"encoding":{"fill":{"condition":{"test":"datum.s=='OGTT'","value":"#18C418"},"value":"white"}}}
]},
{"width":187,"height":138,"title":{"text":"N","dx":-47},
"transform":[{"filter":"datum.g=='M'&&datum.m=='glp'"}],
"encoding":{"x":{"field":"t","type":"quantitative","scale":{"domain":[0,180],"nice":false},"axis":{"values":[0,30,60,90,120,150,180]},"title":"Time (min)"},
"y":{"field":"v","type":"quantitative","scale":{"domain":[-50,150],"nice":false},"axis":{"values":[-50,0,50,100,150]},"title":"ΔGLP-1(7-36)ₜ₋₀/ₜ₀ (%)"}},
"layer":[
{"transform":[{"filter":"datum.t==0&&datum.s=='OGTT'"}],"mark":{"type":"rule","color":"black","strokeDash":[1,2],"strokeWidth":1},"encoding":{"x":{"datum":0},"x2":{"datum":180},"y":{"datum":0}}},
{"mark":{"type":"errorbar","ticks":{"size":7,"thickness":1},"color":"#1414F0","opacity":0.55,"thickness":1},"encoding":{"yError":{"field":"e"}}},
{"mark":{"type":"line","color":"#1414F0","strokeWidth":1.2},"encoding":{"strokeDash":{"field":"s","type":"nominal","scale":{"domain":["OGTT","iso-IVGTT"],"range":[[1,0],[3,2]]},"legend":null}}},
{"mark":{"type":"point","size":30,"opacity":1,"strokeWidth":1.2,"color":"#1414F0"},"encoding":{"fill":{"condition":{"test":"datum.s=='OGTT'","value":"#1414F0"},"value":"white"}}}
]},
{"width":187,"height":138,"title":{"text":"O","dx":-44},
"transform":[{"filter":"datum.g=='L'&&datum.m=='glp'"}],
"encoding":{"x":{"field":"t","type":"quantitative","scale":{"domain":[0,180],"nice":false},"axis":{"values":[0,30,60,90,120,150,180]},"title":"Time (min)"},
"y":{"field":"v","type":"quantitative","scale":{"domain":[-50,150],"nice":false},"axis":{"values":[-50,0,50,100,150]},"title":"ΔGLP-1(7-36)ₜ₋₀/ₜ₀ (%)"}},
"layer":[
{"transform":[{"filter":"datum.t==0&&datum.s=='OGTT'"}],"mark":{"type":"rule","color":"black","strokeDash":[1,2],"strokeWidth":1},"encoding":{"x":{"datum":0},"x2":{"datum":180},"y":{"datum":0}}},
{"mark":{"type":"errorbar","ticks":{"size":7,"thickness":1},"color":"#F01414","opacity":0.55,"thickness":1},"encoding":{"yError":{"field":"e"}}},
{"mark":{"type":"line","color":"#F01414","strokeWidth":1.2},"encoding":{"strokeDash":{"field":"s","type":"nominal","scale":{"domain":["OGTT","iso-IVGTT"],"range":[[1,0],[3,2]]},"legend":null}}},
{"mark":{"type":"point","size":30,"opacity":1,"strokeWidth":1.2,"color":"#F01414"},"encoding":{"fill":{"condition":{"test":"datum.s=='OGTT'","value":"#F01414"},"value":"white"}}}
]}
],
"config":{
"view":{"stroke":null},
"font":"Liberation Sans",
"title":{"anchor":"start","frame":"group","fontSize":20,"fontWeight":"bold","font":"Liberation Sans","baseline":"bottom","offset":2,"color":"black"},
"axis":{"grid":false,"domainColor":"black","domainWidth":1.3,"tickColor":"black","tickWidth":1.3,"tickSize":4,"labelFont":"Liberation Sans","labelFontWeight":"bold","labelFontSize":9,"labelColor":"black","labelPadding":2,"titleFont":"Liberation Sans","titleFontWeight":"bold","titleFontSize":10,"titleColor":"black","labelFlush":false,"labelOverlap":false},
"axisX":{"labelPadding":3,"titlePadding":5},
"axisY":{"titlePadding":5}
}
}
